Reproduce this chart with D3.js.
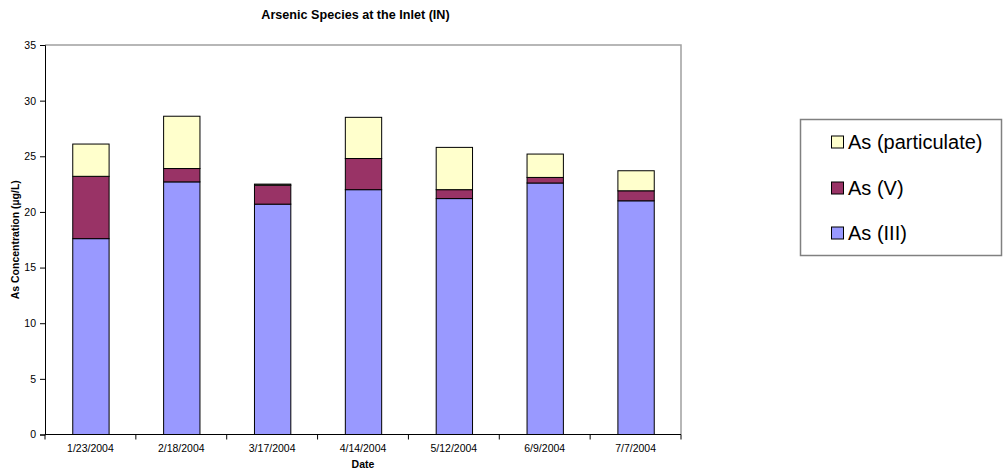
<!DOCTYPE html>
<html><head><meta charset="utf-8">
<script src="https://cdn.jsdelivr.net/npm/d3@7"></script>
<style>body{margin:0;background:#fff}svg{display:block}text{font-family:"Liberation Sans",Arial,sans-serif}</style>
</head><body>
<script>
const dates = ["1/23/2004","2/18/2004","3/17/2004","4/14/2004","5/12/2004","6/9/2004","7/7/2004"];
const asIII = [17.6, 22.7, 20.7, 22.0, 21.2, 22.6, 21.0];
const asV = [5.6, 1.2, 1.7, 2.8, 0.8, 0.5, 0.9];
const asPart = [2.9, 4.7, 0.1, 3.7, 3.8, 2.1, 1.8];
const seriesNames = ["As (III)", "As (V)", "As (particulate)"];
const seriesColors = ["#9999FF", "#993366", "#FFFFCC"];
const yTicks = [0,5,10,15,20,25,30,35];

const W = 1003, H = 476;
const m = {left:45, right:681, top:45, bottom:434.5};
const svg = d3.select("body").append("svg").attr("width", W).attr("height", H);

const rows = dates.map((d,i)=>({date:d, "As (III)":asIII[i], "As (V)":asV[i], "As (particulate)":asPart[i]}));
const stack = d3.stack().keys(seriesNames)(rows);

const x = d3.scaleBand().domain(dates).range([m.left, m.right]).paddingInner(0.6).paddingOuter(0.3);
const xb = d3.scaleBand().domain(dates).range([m.left, m.right]);
const y = d3.scaleLinear().domain([0,35]).range([m.bottom, m.top]);

// plot border (top/right gray)
svg.append("path").attr("d", `M${m.left},${m.top}H${m.right}V${m.bottom}`)
  .attr("fill","none").attr("stroke","#a0a0a0").attr("stroke-width",1.5);

// bars
stack.forEach((s,k)=>{
  svg.append("g").selectAll("rect").data(s).join("rect")
    .attr("x", d=>x(d.data.date)+0.5)
    .attr("width", x.bandwidth())
    .attr("y", d=>y(d[1]))
    .attr("height", d=>y(d[0])-y(d[1]))
    .attr("fill", seriesColors[k])
    .attr("stroke","#000").attr("stroke-width",1);
});

// y axis
const ya = svg.append("g").attr("transform",`translate(${m.left},0)`)
  .call(d3.axisLeft(y).tickValues(yTicks).tickSize(5).tickPadding(4));
ya.select(".domain").attr("stroke","#000").attr("stroke-width",1);
ya.selectAll("line").attr("stroke","#000");
ya.selectAll("text").attr("font-size","10.5px").attr("fill","#000");

// x axis
const xa = svg.append("g").attr("transform",`translate(0,${m.bottom})`)
  .call(d3.axisBottom(x).tickSize(0).tickPadding(10));
xa.select(".domain").remove();
xa.selectAll("line").remove();
xa.selectAll("text").attr("font-size","10.5px").attr("fill","#000");
svg.append("line").attr("x1",m.left).attr("x2",m.right).attr("y1",m.bottom).attr("y2",m.bottom).attr("stroke","#000");
const bounds = dates.map(d=>xb(d)).concat([m.right]);
svg.append("g").selectAll("line").data(bounds).join("line")
  .attr("x1",d=>d).attr("x2",d=>d).attr("y1",m.bottom).attr("y2",m.bottom+5).attr("stroke","#000");

// titles
svg.append("text").attr("x",355.5).attr("y",18.5).attr("text-anchor","middle")
  .attr("font-size","12.6px").attr("font-weight","bold").text("Arsenic Species at the Inlet (IN)");
svg.append("text").attr("x",(m.left+m.right)/2).attr("y",468).attr("text-anchor","middle")
  .attr("font-size","10.5px").attr("font-weight","bold").text("Date");
svg.append("text").attr("transform",`translate(19,${(m.top+m.bottom)/2}) rotate(-90)`).attr("text-anchor","middle")
  .attr("font-size","10.5px").attr("font-weight","bold").text("As Concentration (µg/L)");

// legend
svg.append("rect").attr("x",800.5).attr("y",119.5).attr("width",201).attr("height",136)
  .attr("fill","#fff").attr("stroke","#808080").attr("stroke-width",1.5);
const legOrder = [2,1,0];
const legY = [142, 188, 233];
legOrder.forEach((k,i)=>{
  svg.append("rect").attr("x",831.5).attr("y",legY[i]-6).attr("width",12).attr("height",12)
    .attr("fill",seriesColors[k]).attr("stroke","#000").attr("stroke-width",1);
  svg.append("text").attr("x",848).attr("y",legY[i]+7).attr("font-size","20px").text(seriesNames[k]);
});
</script>
</body></html>
